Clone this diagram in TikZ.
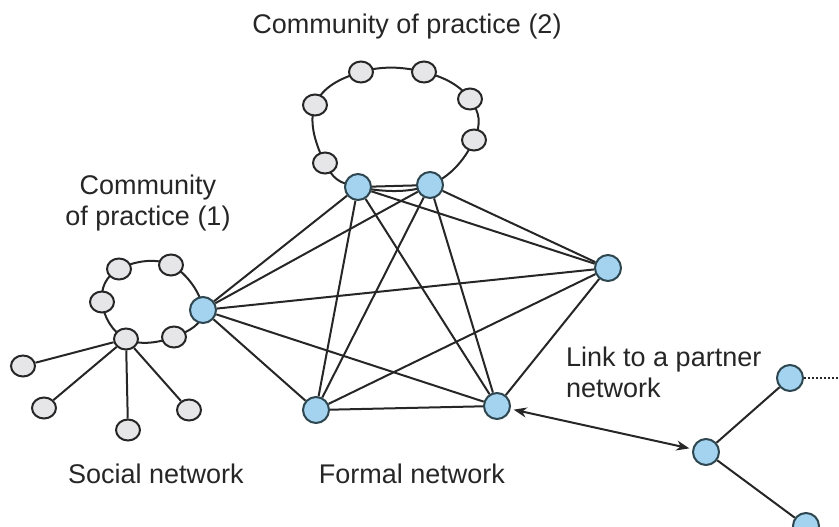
\documentclass[tikz,border=0pt]{standalone}
\usepackage{fontspec}
\setmainfont{Liberation Sans}
\usetikzlibrary{shapes.geometric,arrows.meta,backgrounds}
\definecolor{nodeblue}{HTML}{A3D3EF}
\definecolor{nodegray}{HTML}{E6E6E8}
\definecolor{edgec}{HTML}{262626}
\definecolor{bluerim}{HTML}{2E4650}
\tikzset{
  gnode/.style={ellipse,draw=edgec,fill=nodegray,line width=2pt,minimum width=24pt,minimum height=21pt,inner sep=0pt},
  bnode/.style={circle,draw=bluerim,fill=nodeblue,line width=2pt,minimum size=26pt,inner sep=0pt},
  edge/.style={draw=edgec,line width=2pt},
  lbl/.style={font=\fontsize{27}{31}\selectfont,text=black!85,inner sep=0pt}
}
\begin{document}
\begin{tikzpicture}[x=1pt,y=-1pt]
\useasboundingbox (0,0) rectangle (839,527);
% formal network
\node[bnode] (A) at (203,310) {};
\node[bnode] (B) at (358,187) {};
\node[bnode] (C) at (430,185) {};
\node[bnode] (D) at (608,268) {};
\node[bnode] (E) at (316,410) {};
\node[bnode] (F) at (497,406) {};
% community 2
\node[gnode] (t1) at (325,163) {};
\node[gnode] (t2) at (315,105) {};
\node[gnode] (t3) at (361,72) {};
\node[gnode] (t4) at (424,72) {};
\node[gnode] (t5) at (470,99) {};
\node[gnode] (t6) at (474,140) {};
% community 1
\node[gnode] (h) at (126,339) {};
\node[gnode] (l1) at (102,302) {};
\node[gnode] (l2) at (119,269) {};
\node[gnode] (l3) at (171,265) {};
\node[gnode] (l4) at (174,337) {};
% social leaves
\node[gnode] (s1) at (23,366) {};
\node[gnode] (s2) at (44,408) {};
\node[gnode] (s3) at (128,430) {};
\node[gnode] (s4) at (189,410) {};
% partner
\node[bnode] (G) at (706,452) {};
\node[bnode] (H) at (790,378) {};
\node[bnode] (I) at (806,526) {};
\coordinate (Hend) at (839,378);
\begin{scope}[on background layer]
\draw[edge] plot[smooth cycle,tension=0.7] coordinates {(B.center) (t1.center) (t2.center) (t3.center) (t4.center) (t5.center) (t6.center) (C.center)};
\draw[edge] plot[smooth cycle,tension=0.7] coordinates {(h.center) (l1.center) (l2.center) (l3.center) (A.center) (l4.center)};
\end{scope}
\foreach \u/\v in {A/B,A/C,A/D,A/E,A/F,B/C,B/D,B/E,B/F,C/D,C/E,C/F,D/E,D/F,E/F}
  \draw[edge] (\u) -- (\v);
\foreach \v in {s1,s2,s3,s4}
  \draw[edge] (h) -- (\v);
\draw[edge] (G) -- (H);
\draw[edge] (G) -- (I);
\draw[edge,dotted,line width=1.6pt] (H) -- (Hend);
\draw[edge,{Stealth[length=13pt,width=10pt,inset=4pt]}-{Stealth[length=13pt,width=10pt,inset=4pt]},shorten <=3pt,shorten >=3pt] (F) -- (G);
% labels
\node[lbl] (c2) at (407,27) {Community of practice (2)};
\node[lbl,align=center] (c1) at (148,203) {Community\\of practice (1)};
\node[lbl] (sn) at (156,474) {Social network};
\node[lbl] (fn) at (412,474) {Formal network};
\node[lbl,align=left,anchor=west] (lk) at (566,372) {Link to a partner\\network};
\end{tikzpicture}
\end{document}
